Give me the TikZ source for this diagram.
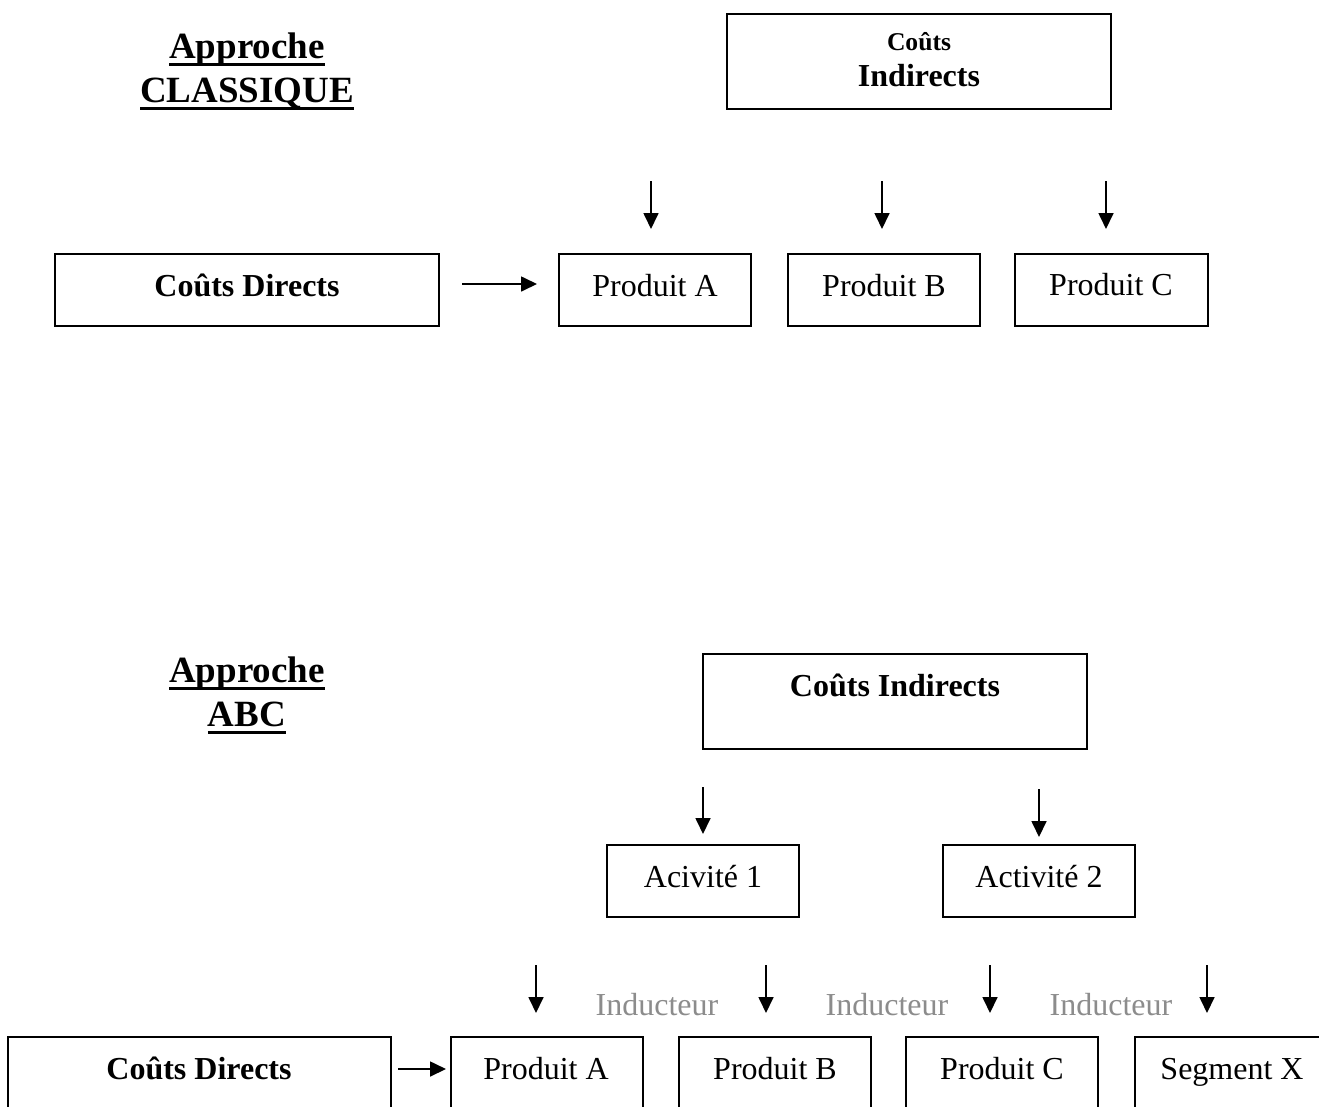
\documentclass[tikz,border=0pt]{standalone}
\usepackage{fontspec}
\setmainfont{Liberation Serif}
\usetikzlibrary{arrows.meta}
% underline placed like a word processor's: through the descenders
\newcommand\wordul[1]{\setbox0\hbox{#1}\rlap{\vrule height -4.5pt depth 7.5pt width \wd0}\box0}
\begin{document}
\begin{tikzpicture}[x=1pt,y=-1pt,
  box/.style={draw, line width=1.7pt, inner sep=0pt, outer sep=0pt},
  txt/.style={inner sep=0pt, anchor=base, font=\fontsize{32}{38}\selectfont},
  bld/.style={txt, font=\fontsize{32}{38}\selectfont\bfseries},
  head/.style={txt, font=\fontsize{37}{44}\selectfont\bfseries},
  ind/.style={txt, text=black!45},
  arr/.style={line width=1.7pt, -{Triangle[length=16pt,width=15pt]}}]
\useasboundingbox (0,0) rectangle (1319,1106);
\fill[white] (0,0) rectangle (1319,1106);
\clip (0,0) rectangle (1319,1106);

% ---------------- classical approach ----------------
\node[head] (h1a) at (247,58) {\wordul{Approche}};
\node[head] (h1b) at (247,102) {\wordul{CLASSIQUE}};

\node[box, minimum width=384pt, minimum height=95pt] (CI1) at (919,61.5) {};
\node[txt, font=\fontsize{25.6}{30}\selectfont\bfseries] (CI1a) at (919,50) {Coûts};
\node[bld] (CI1b) at (919,86) {Indirects};

\node[box, minimum width=384pt, minimum height=72pt] (CD1) at (247,290) {};
\node[bld] (CD1t) at (247,296) {Coûts Directs};

\node[box, minimum width=192pt, minimum height=72pt] (PA1) at (655,290) {};
\node[txt] (PA1t) at (655,296) {Produit A};
\node[box, minimum width=192pt, minimum height=72pt] (PB1) at (884,290) {};
\node[txt] (PB1t) at (884,296) {Produit B};
\node[box, minimum width=193pt, minimum height=72pt] (PC1) at (1111.5,290) {};
\node[txt] (PC1t) at (1111,295) {Produit C};

\draw[arr, shorten <=23pt, shorten >=22pt] ([yshift=6pt]CD1.east) -- ([yshift=6pt]PA1.west);

\coordinate (d1) at (651,181);
\coordinate (d2) at (882,181);
\coordinate (d3) at (1106,181);
\draw[arr, shorten >=25pt] (d1) -- (d1 |- PA1.north);
\draw[arr, shorten >=25pt] (d2) -- (d2 |- PB1.north);
\draw[arr, shorten >=25pt] (d3) -- (d3 |- PC1.north);

% ---------------- ABC approach ----------------
\node[head] (h2a) at (247,682) {\wordul{Approche}};
\node[head] (h2b) at (247,726) {\wordul{ABC}};

\node[box, minimum width=384pt, minimum height=95pt] (CI2) at (895,701.5) {};
\node[bld] (CI2t) at (895,696) {Coûts Indirects};

\node[box, minimum width=192pt, minimum height=72pt] (AC1) at (703,881) {};
\node[txt] (AC1t) at (703,887) {Acivité 1};
\node[box, minimum width=192pt, minimum height=72pt] (AC2) at (1039,881) {};
\node[txt] (AC2t) at (1039,887) {Activité 2};

\coordinate (e1) at (703,787);
\coordinate (e2) at (1039,789);
\draw[arr, shorten >=11pt] (e1) -- (e1 |- AC1.north);
\draw[arr, shorten >=8pt] (e2) -- (e2 |- AC2.north);

\node[box, minimum width=383pt, minimum height=72pt] (CD2) at (199.5,1073) {};
\node[bld] (CD2t) at (199,1079) {Coûts Directs};
\node[box, minimum width=192pt, minimum height=72pt] (PA2) at (547,1073) {};
\node[txt] (PA2t) at (546,1079) {Produit A};
\node[box, minimum width=192pt, minimum height=72pt] (PB2) at (775,1073) {};
\node[txt] (PB2t) at (775,1079) {Produit B};
\node[box, minimum width=192pt, minimum height=72pt] (PC2) at (1002,1073) {};
\node[txt] (PC2t) at (1002,1079) {Produit C};
\node[box, minimum width=192pt, minimum height=72pt] (SX) at (1231,1073) {};
\node[txt] (SXt) at (1232,1079) {Segment X};

\draw[arr, shorten <=7pt, shorten >=5pt] ([yshift=4pt]CD2.east) -- ([yshift=4pt]PA2.west);

\coordinate (f1) at (536,965);
\coordinate (f2) at (766,965);
\coordinate (f3) at (990,965);
\coordinate (f4) at (1207,965);
\draw[arr, shorten >=24pt] (f1) -- (f1 |- PA2.north);
\draw[arr, shorten >=24pt] (f2) -- (f2 |- PB2.north);
\draw[arr, shorten >=24pt] (f3) -- (f3 |- PC2.north);
\draw[arr, shorten >=24pt] (f4) -- (f4 |- SX.north);

\node[ind] (i1) at (657,1015) {Inducteur};
\node[ind] (i2) at (887,1015) {Inducteur};
\node[ind] (i3) at (1111,1015) {Inducteur};
\end{tikzpicture}
\end{document}
